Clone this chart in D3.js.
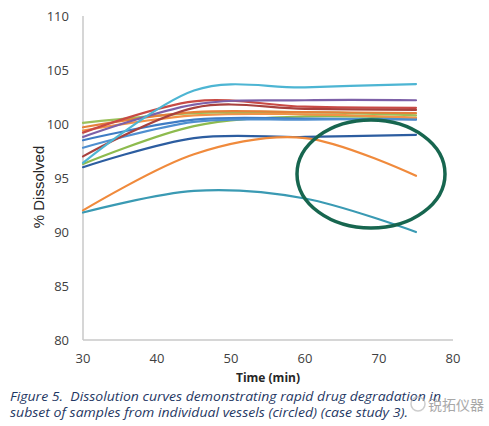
<!DOCTYPE html>
<html>
<head>
<meta charset="utf-8">
<script src="https://cdn.jsdelivr.net/npm/d3@7"></script>
<style>
  html, body { margin: 0; padding: 0; background: #fff; }
  svg { display: block; }
  .cap { white-space: pre; }
</style>
</head>
<body>
<svg id="chart" width="489" height="426"></svg>
<script>
// ---- data ----
const times = [30, 45, 60, 75];
const xTicks = [30, 40, 50, 60, 70, 80];
const yTicks = [80, 85, 90, 95, 100, 105, 110];

const seriesNames = ["V1","V2","V3","V4","V5","V6","V7","V8","V9","V10","V11","V12","V13"];
const seriesColors = ["#2C5DA0","#8DBB4E","#3E7CC4","#4F8FD0","#F39247","#9BC05A","#E5803A",
                      "#C84A45","#A8413E","#7D60A8","#F08A3C","#3A9AB3","#4DB5D3"];
const seriesValues = [
  [96.0, 98.7, 98.8, 99.0],     // dark blue
  [96.3, 99.8, 100.7, 100.5],   // green (low start)
  [98.5, 100.4, 100.5, 100.4],  // blue
  [97.8, 100.2, 100.4, 100.5],  // blue 2
  [99.4, 100.8, 100.9, 100.6],  // orange 2
  [100.1, 101.0, 101.1, 100.8], // green top
  [99.7, 101.1, 101.1, 101.0],  // orange top
  [99.2, 102.1, 101.6, 101.5],  // red peak
  [97.0, 101.5, 101.4, 101.3],  // dark red
  [98.8, 101.8, 102.2, 102.2],  // purple
  [92.0, 97.2, 98.7, 95.2],     // orange low (degrading)
  [91.8, 93.8, 93.1, 90.0],     // teal low (degrading)
  [96.4, 103.1, 103.4, 103.7]   // cyan
];

const xLabel = "Time (min)";
const yLabel = "% Dissolved";
const caption1 = "Figure 5.  Dissolution curves demonstrating rapid drug degradation in";
const caption2 = "subset of samples from individual vessels (circled) (case study 3).";
const watermark = "锐拓仪器";

// ---- layout ----
const svg = d3.select("#chart");
const x = d3.scaleLinear().domain([30, 80]).range([83, 453]);
const y = d3.scaleLinear().domain([80, 110]).range([340, 16]);

// axes lines
svg.append("line").attr("x1", x(30)).attr("x2", x(30)).attr("y1", y(110)).attr("y2", y(80))
  .attr("stroke", "#C8C8C8").attr("stroke-width", 1.5);
svg.append("line").attr("x1", x(30)).attr("x2", x(80)).attr("y1", y(80)).attr("y2", y(80))
  .attr("stroke", "#C8C8C8").attr("stroke-width", 1.5);

const tickFont = "'Open Sans', 'Liberation Sans', sans-serif";
svg.append("g").selectAll("text").data(yTicks).join("text")
  .attr("x", 69).attr("y", d => y(d)).attr("dy", "0.35em")
  .attr("text-anchor", "end").attr("font-family", tickFont).attr("font-size", 13)
  .attr("fill", "#404040").text(d => d);

svg.append("g").selectAll("text").data(xTicks).join("text")
  .attr("x", d => x(d)).attr("y", 358).attr("dy", "0.35em")
  .attr("text-anchor", "middle").attr("font-family", tickFont).attr("font-size", 13)
  .attr("fill", "#404040").text(d => d);

svg.append("text").attr("x", (x(30) + x(80)) / 2).attr("y", 382)
  .attr("text-anchor", "middle").attr("font-family", tickFont).attr("font-size", 12)
  .attr("font-weight", "bold").attr("fill", "#262626").text(xLabel);

svg.append("text").attr("transform", "translate(44,187) rotate(-90)")
  .attr("text-anchor", "middle").attr("font-family", "'Liberation Sans', Arial, sans-serif")
  .attr("font-size", 15).attr("fill", "#262626").text(yLabel);

// lines
const line = d3.line()
  .x((d, i) => x(times[i]))
  .y(d => y(d))
  .curve(d3.curveCardinal.tension(0));

svg.append("g").selectAll("path").data(seriesValues).join("path")
  .attr("d", d => line(d))
  .attr("fill", "none")
  .attr("stroke", (d, i) => seriesColors[i])
  .attr("stroke-width", 2.2)
  .attr("stroke-linecap", "round");

// circled region
svg.append("ellipse").attr("cx", 371).attr("cy", 174).attr("rx", 74).attr("ry", 54)
  .attr("fill", "none").attr("stroke", "#17664F").attr("stroke-width", 3.5);

// caption
const capFont = "'Open Sans', 'Liberation Sans', sans-serif";
svg.append("text").attr("class", "cap").attr("x", 10).attr("y", 401)
  .attr("font-family", capFont).attr("font-style", "italic").attr("font-size", 12.5)
  .attr("fill", "#1F3864").attr("textLength", 431).attr("lengthAdjust", "spacingAndGlyphs")
  .text(caption1);
svg.append("text").attr("class", "cap").attr("x", 10).attr("y", 417)
  .attr("font-family", capFont).attr("font-style", "italic").attr("font-size", 12.5)
  .attr("fill", "#1F3864").attr("textLength", 398).attr("lengthAdjust", "spacingAndGlyphs")
  .text(caption2);

// watermark
svg.append("circle").attr("cx", 418).attr("cy", 404).attr("r", 7)
  .attr("fill", "none").attr("stroke", "#B8B8B8").attr("stroke-width", 1.5).attr("opacity", 0.7);
svg.append("text").attr("x", 428).attr("y", 410)
  .attr("font-family", "'Noto Sans CJK SC', sans-serif").attr("font-size", 14)
  .attr("fill", "#9A9A9A").attr("opacity", 0.85).text(watermark);
</script>
</body>
</html>
